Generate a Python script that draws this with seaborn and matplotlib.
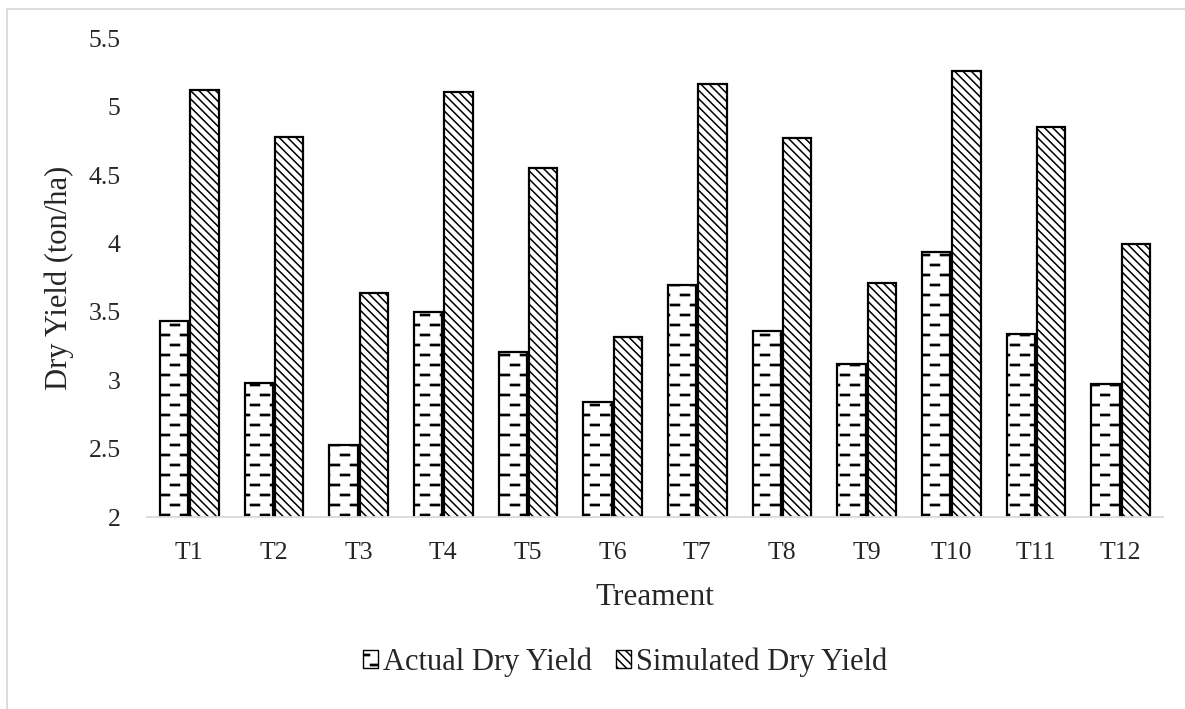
import warnings
import numpy as np
import pandas as pd
import seaborn as sns
import matplotlib.pyplot as plt
import matplotlib.hatch as mhatch
from matplotlib.path import Path
from matplotlib.patches import Patch
from matplotlib.lines import Line2D

warnings.filterwarnings("ignore")

# data
treatments = ['T1', 'T2', 'T3', 'T4', 'T5', 'T6', 'T7', 'T8', 'T9', 'T10', 'T11', 'T12']
actual = [3.43, 2.98, 2.53, 3.50, 3.21, 2.84, 3.70, 3.36, 3.12, 3.94, 3.34, 2.97]
simulated = [5.12, 4.78, 3.64, 5.11, 4.55, 3.32, 5.17, 4.77, 3.71, 5.26, 4.85, 4.00]
series = ['Actual Dry Yield', 'Simulated Dry Yield']
yticks = [2, 2.5, 3, 3.5, 4, 4.5, 5, 5.5]


class DashHatch(mhatch.HatchPatternBase):
    """staggered short horizontal dashes (Excel 'dashed horizontal' fill), char '_'"""
    rows, cols = 10, 5

    def __init__(self, hatch, density):
        self.on = '_' in hatch
        self.num_vertices = self.rows * self.cols * 5 if self.on else 0

    def set_vertices_and_codes(self, vertices, codes):
        i = 0
        h = 0.006
        for r in range(self.rows):
            y = (r + 0.5) / self.rows
            off = 0.0 if r % 2 == 0 else 0.5 / self.cols
            for k in range(self.cols):
                x0 = k / self.cols + off + 0.005
                x1 = x0 + 0.09
                vertices[i:i + 5] = [[x0, y - h], [x1, y - h], [x1, y + h], [x0, y + h], [x0, y - h]]
                codes[i:i + 5] = [Path.MOVETO, Path.LINETO, Path.LINETO, Path.LINETO, Path.CLOSEPOLY]
                i += 5


mhatch._hatch_types.append(DashHatch)

hatches = ['_', '\\\\\\\\']

sns.set_style('white')
plt.rcParams['font.family'] = ['Liberation Serif', 'DejaVu Serif']
plt.rcParams['hatch.linewidth'] = 1.1

df = pd.DataFrame({
    'Treatment': treatments * 2,
    'Yield': actual + simulated,
    'Series': [series[0]] * len(actual) + [series[1]] * len(simulated),
})

W, H = 1185, 709
fig = plt.figure(figsize=(W / 100, H / 100), dpi=100)
ax = fig.add_axes([147 / W, 1 - 517 / H, (1163 - 147) / W, (517 - 38.5) / H])

sns.barplot(data=df, x='Treatment', y='Yield', hue='Series', palette=['white', 'white'],
            edgecolor='black', linewidth=1.6, width=0.72, gap=0.07, legend=False, ax=ax)

for cont, h in zip(ax.containers, hatches):
    for bar in cont:
        bar.set_hatch(h)

ax.set_ylim(2, 5.5)
ax.set_xlim(-0.5, len(treatments) - 0.5)
ax.set_yticks(yticks)
ax.set_yticklabels([f'{v:g}' for v in yticks])
ax.tick_params(axis='both', length=0, labelsize=18.5)
ax.tick_params(axis='y', pad=19)
ax.tick_params(axis='x', pad=18)

for s in ['left', 'top', 'right']:
    ax.spines[s].set_visible(False)
ax.spines['bottom'].set_color('#d9d9d9')
ax.spines['bottom'].set_linewidth(1.3)

ax.set_xlabel('Treament', fontsize=22.5)
ax.set_ylabel('Dry Yield (ton/ha)', fontsize=22)
ax.xaxis.set_label_coords(0.5, -0.137)
ax.yaxis.set_label_coords(-0.072, 0.5)

handles = [Patch(facecolor='white', edgecolor='black', linewidth=1.0, hatch=h) for h in hatches]
fig.legend(handles, series, loc='center', bbox_to_anchor=(625 / W, 1 - 662 / H), ncol=2,
           frameon=False, fontsize=22, handlelength=0.5, handleheight=0.5,
           handletextpad=0.15, columnspacing=0.8)

# light chart-area border (top and left visible)
fig.add_artist(Line2D([7 / W, 1], [1 - 8.5 / H, 1 - 8.5 / H], transform=fig.transFigure,
                      color='#d9d9d9', lw=1.3))
fig.add_artist(Line2D([7 / W, 7 / W], [0, 1 - 8.5 / H], transform=fig.transFigure,
                      color='#d9d9d9', lw=1.3))

fig.savefig('out.png', dpi=100)
